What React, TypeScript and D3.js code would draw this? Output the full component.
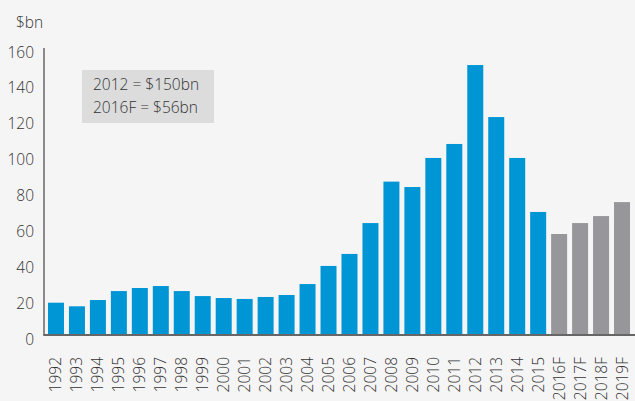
import React from "react";
import * as d3 from "d3";

const categories = ["1992","1993","1994","1995","1996","1997","1998","1999","2000","2001","2002","2003","2004","2005","2006","2007","2008","2009","2010","2011","2012","2013","2014","2015","2016F","2017F","2018F","2019F"];
const values = [18,16,19.5,24.5,26.2,27.3,24.5,21.7,20.6,20.1,21.2,22.3,28.4,38.5,45.2,62.4,85.5,82.5,98.7,106.5,150.5,121.5,98.7,68.6,56.3,62.4,66.3,74.1];
const forecast = [false,false,false,false,false,false,false,false,false,false,false,false,false,false,false,false,false,false,false,false,false,false,false,false,true,true,true,true];
const yTicks = [0,20,40,60,80,100,120,140,160];
const unitLabel = "$bn";
const noteLines = ["2012 = $150bn", "2016F = $56bn"];

const W = 635, H = 401;
const FONT = "'Open Sans', 'Noto Sans', sans-serif";

export default function App() {
  const x = d3.scaleBand<string>().domain(categories).range([44, 634]).paddingInner(0.237).paddingOuter(0.19);
  const y = d3.scaleLinear().domain([0, 160]).range([335, 48]);
  return (
    <svg width={W} height={H} style={{ position: "absolute", left: 0, top: 0, background: "#f5f5f5" }} fontFamily={FONT} fontWeight={300}>
      <rect x={0} y={0} width={W} height={H} fill="#f5f5f5" />
      <text x={16} y={28} fontSize={15.5} fill="#333">{unitLabel}</text>
      {yTicks.map((t) => (
        <text key={t} x={34} y={y(t) + 9.5} fontSize={15.5} fill="#333" textAnchor="end">{t}</text>
      ))}
      {categories.map((c, i) => (
        <rect key={c} x={x(c)} y={y(values[i])} width={x.bandwidth()} height={y(0) - y(values[i])}
          fill={forecast[i] ? "#97979b" : "#0096d6"} />
      ))}
      <line x1={44} x2={44} y1={48} y2={335} stroke="#666" strokeWidth={1.5} />
      <line x1={43.25} x2={635} y1={335} y2={335} stroke="#666" strokeWidth={2} />
      {categories.map((c) => (
        <text key={c} transform={`translate(${(x(c) as number) + x.bandwidth() / 2 + 5.5},357) rotate(-90)`}
          fontSize={15.5} fill="#333" textAnchor="end">{c}</text>
      ))}
      <rect x={82} y={70} width={132} height={53} fill="#dcdcdc" />
      {noteLines.map((l, i) => (
        <text key={l} x={93} y={90 + i * 23} fontSize={15.5} fill="#333">{l}</text>
      ))}
    </svg>
  );
}
